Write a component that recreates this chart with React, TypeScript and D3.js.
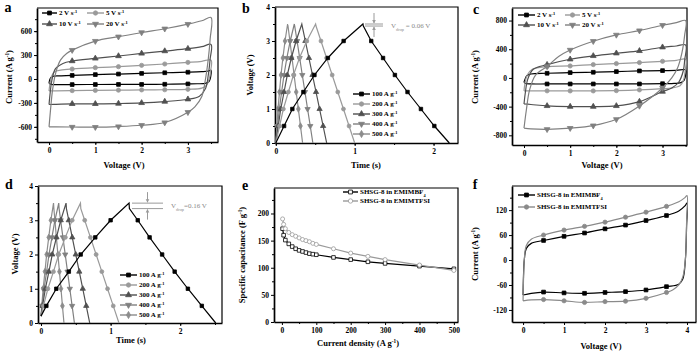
import { useEffect, useRef } from "react";
import * as d3 from "d3";

type Pt = [number, number];
type Part = [string, "" | "sup" | "sub"];

// ---- a: CV curves in EMIMBF4, [voltage V, current A g-1], traced round the loop
const cvA2: Pt[] = [[0,-55],[0.01,-20],[0.04,20],[0.1,35],[0.2,40],[0.5,45],[1,55],[1.5,62],[2,70],[2.5,78],[3,85],[3.3,92],[3.45,100],[3.5,110],[3.5,60],[3.48,0],[3.45,-35],[3.38,-55],[3.2,-60],[3,-62],[2.5,-66],[2,-68],[1.5,-68],[1,-69],[0.5,-70],[0.2,-70],[0.05,-67],[0,-55]];
const cvA5: Pt[] = [[0,-150],[0.02,-60],[0.06,40],[0.12,90],[0.25,110],[0.5,125],[1,142],[1.5,154],[2,171],[2.5,188],[3,208],[3.3,222],[3.5,237],[3.49,100],[3.46,0],[3.4,-80],[3.3,-115],[3,-130],[2.5,-135],[2,-137],[1.5,-140],[1,-143],[0.5,-146],[0.15,-150],[0,-150]];
const cvA10: Pt[] = [[0,-320],[0.02,-200],[0.06,-20],[0.14,130],[0.3,195],[0.5,225],[1,258],[1.5,288],[2,320],[2.5,350],[3,380],[3.3,405],[3.5,433],[3.48,250],[3.44,50],[3.38,-120],[3.25,-215],[3,-254],[2.5,-283],[2,-300],[1.5,-308],[1,-312],[0.5,-312],[0.15,-318],[0,-320]];
const cvA20: Pt[] = [[0,-600],[0.03,-400],[0.08,-120],[0.15,90],[0.25,240],[0.38,320],[0.5,362],[1,475],[1.5,530],[2,583],[2.5,630],[3,688],[3.3,730],[3.5,771],[3.48,500],[3.44,250],[3.38,0],[3.3,-220],[3.15,-350],[3,-417],[2.5,-546],[2,-580],[1.5,-596],[1,-604],[0.5,-602],[0.15,-600],[0,-600]];

// ---- c: CV curves in EMIMTFSI
const cvC2: Pt[] = [[0,-60],[0.02,-20],[0.06,30],[0.15,55],[0.5,65],[1,74],[1.5,79],[2,88],[2.5,98],[3,102],[3.3,106],[3.5,112],[3.5,40],[3.47,-30],[3.4,-65],[3.2,-78],[3,-80],[2.5,-84],[2,-84],[1.5,-84],[1,-84],[0.5,-84],[0.15,-84],[0.03,-78],[0,-60]];
const cvC5: Pt[] = [[0,-180],[0.02,-80],[0.07,40],[0.18,120],[0.5,158],[1,167],[1.5,186],[2,200],[2.5,214],[3,232],[3.3,245],[3.5,260],[3.49,100],[3.45,-40],[3.38,-110],[3.2,-140],[3,-150],[2.5,-167],[2,-177],[1.5,-181],[1,-181],[0.5,-180],[0.15,-180],[0,-180]];
const cvC10: Pt[] = [[0,-363],[0.03,-200],[0.08,-20],[0.2,120],[0.5,185],[1,260],[1.5,307],[2,344],[2.5,377],[3,428],[3.3,445],[3.5,460],[3.48,250],[3.45,100],[3.35,-60],[3.2,-140],[3,-190],[2.5,-330],[2,-390],[1.5,-400],[1,-400],[0.5,-390],[0.15,-370],[0,-363]];
const cvC20: Pt[] = [[0,-700],[0.05,-450],[0.12,-170],[0.25,40],[0.5,160],[0.75,300],[1,390],[1.5,512],[2,600],[2.5,660],[3,735],[3.3,770],[3.5,800],[3.48,600],[3.42,350],[3.32,130],[3.2,0],[3,-140],[2.5,-390],[2,-577],[1.5,-665],[1,-700],[0.5,-716],[0.15,-710],[0,-700]];
const scanRates = ["2", "5", "10", "20"];

// ---- b: GCD in EMIMBF4, [time s, voltage V]
const gcdB100: Pt[] = [[0,0],[0.105,0.5],[0.21,1],[0.35,1.5],[0.49,2],[0.66,2.5],[0.86,3],[1.105,3.5],[1.11,3.44],[1.21,3],[1.36,2.5],[1.51,2],[1.67,1.5],[1.84,1],[2.01,0.5],[2.2,0]];
const gcdB200: Pt[] = [[0,0],[0.048,0.5],[0.096,1],[0.16,1.5],[0.224,2],[0.3,2.5],[0.393,3],[0.505,3.5],[0.51,3.44],[0.573,3],[0.644,2.5],[0.715,2],[0.786,1.5],[0.858,1],[0.929,0.5],[1.0,0]];
const gcdB300: Pt[] = [[0,0],[0.031,0.5],[0.063,1],[0.105,1.5],[0.146,2],[0.197,2.5],[0.257,3],[0.33,3.5],[0.335,3.44],[0.375,3],[0.42,2.5],[0.465,2],[0.51,1.5],[0.555,1],[0.6,0.5],[0.645,0]];
const gcdB400: Pt[] = [[0,0],[0.022,0.5],[0.045,1],[0.074,1.5],[0.104,2],[0.14,2.5],[0.183,3],[0.235,3.5],[0.24,3.44],[0.27,3],[0.303,2.5],[0.336,2],[0.37,1.5],[0.403,1],[0.437,0.5],[0.47,0]];
const gcdB500: Pt[] = [[0,0],[0.014,0.5],[0.028,1],[0.047,1.5],[0.066,2],[0.09,2.5],[0.117,3],[0.15,3.5],[0.155,3.44],[0.179,3],[0.206,2.5],[0.232,2],[0.259,1.5],[0.286,1],[0.313,0.5],[0.34,0]];

// ---- d: GCD in EMIMTFSI
const gcdD100: Pt[] = [[0,0.2],[0.077,0.5],[0.22,1],[0.4,1.5],[0.57,2],[0.78,2.5],[1.0,3],[1.265,3.5],[1.27,3.34],[1.39,3],[1.56,2.5],[1.74,2],[1.92,1.5],[2.11,1],[2.31,0.5],[2.51,0]];
const gcdD200: Pt[] = [[0,0.2],[0.035,0.5],[0.099,1],[0.179,1.5],[0.255,2],[0.35,2.5],[0.448,3],[0.567,3.5],[0.572,3.34],[0.628,3],[0.71,2.5],[0.792,2],[0.874,1.5],[0.956,1],[1.038,0.5],[1.12,0]];
const gcdD300: Pt[] = [[0,0.2],[0.022,0.5],[0.063,1],[0.114,1.5],[0.162,2],[0.222,2.5],[0.284,3],[0.36,3.5],[0.365,3.34],[0.399,3],[0.449,2.5],[0.499,2],[0.55,1.5],[0.6,1],[0.65,0.5],[0.7,0]];
const gcdD400: Pt[] = [[0,0.2],[0.016,0.5],[0.044,1],[0.081,1.5],[0.115,2],[0.157,2.5],[0.2,3],[0.255,3.5],[0.26,3.34],[0.282,3],[0.315,2.5],[0.348,2],[0.381,1.5],[0.414,1],[0.447,0.5],[0.48,0]];
const gcdD500: Pt[] = [[0,0.2],[0.011,0.5],[0.031,1],[0.057,1.5],[0.081,2],[0.111,2.5],[0.142,3],[0.18,3.5],[0.185,3.34],[0.2,3],[0.221,2.5],[0.243,2],[0.265,1.5],[0.287,1],[0.308,0.5],[0.33,0]];
const gcdCurrents = ["100", "200", "300", "400", "500"];

// ---- e: rate capability
const currentDensity = [2, 5, 10, 20, 30, 40, 50, 60, 70, 80, 90, 100, 150, 200, 250, 300, 400, 500];
const capBF4 = [172, 160, 151, 144, 139, 135, 132, 130, 128, 126, 125, 124, 119, 115, 111, 108, 103, 98];
const capTFSI = [190, 180, 172, 165, 161, 158, 155, 152, 150, 148, 145, 143, 135, 127, 121, 115, 105, 95];

// ---- f: CV at 4 V in both electrolytes
const cvF_BF4: Pt[] = [[0,-84],[0.01,-40],[0.03,0],[0.08,28],[0.2,40],[0.5,47],[1,57],[1.5,65],[2,75],[2.5,84],[3,95],[3.5,107],[3.8,118],[3.95,130],[4,137],[3.99,80],[3.96,0],[3.9,-45],[3.8,-58],[3.5,-64],[3,-72],[2.5,-76],[2,-78],[1.5,-80],[1,-79],[0.5,-77],[0.2,-80],[0,-84]];
const cvF_TFSI: Pt[] = [[0,-98],[0.01,-50],[0.03,0],[0.08,35],[0.2,50],[0.5,60],[1,72],[1.5,81],[2,91],[2.5,103],[3,115],[3.5,129],[3.8,140],[3.95,150],[4,155],[3.99,90],[3.96,0],[3.9,-40],[3.8,-60],[3.65,-72],[3.5,-78],[3,-92],[2.5,-99],[2,-100],[1.5,-102],[1,-98],[0.5,-95],[0.2,-96],[0,-98]];

// tick values
const cvXTicks = [0, 1, 2, 3];
const aYTicks = [-600, -300, 0, 300, 600];
const cYTicks = [-800, -400, 0, 400, 800];
const gcdYTicks = [0, 1, 2, 3, 4];
const gcdXTicks = [0, 1, 2];
const eXTicks = [0, 100, 200, 300, 400, 500];
const eYTicks = [0, 50, 100, 150, 200];
const fXTicks = [0, 1, 2, 3, 4];
const fYTicks = [-120, -60, 0, 60, 120];

const FONT = "'Liberation Serif', 'Times New Roman', serif";
const ink = ["#000000", "#9a9a9a", "#505050", "#808080", "#8c8c8c"];
const symTypes = [d3.symbolSquare, d3.symbolCircle, d3.symbolTriangle, d3.symbolTriangle, d3.symbolDiamond];

type Sel = d3.Selection<any, unknown, null, undefined>;
interface Spec {
  left: number; right: number; top: number; bottom: number;
  xDomain: [number, number]; yDomain: [number, number];
  xTicks: number[]; xMinor: number[]; yTicks: number[]; yMinor: number[];
}

const range = (a: number, b: number, s: number) => d3.range(a, b + s / 2, s);

function rich(t: Sel, parts: Part[], fs: number) {
  parts.forEach(([s, k]) => {
    const ts = t.append("tspan").text(s);
    if (k) ts.attr("baseline-shift", k === "sup" ? "super" : "sub").attr("font-size", fs * 0.62);
  });
}

function text(svg: Sel, x: number, y: number, parts: Part[], fs: number, o: { rot?: boolean; anchor?: string; bold?: boolean; fill?: string } = {}) {
  const t = svg.append("text")
    .attr("transform", `translate(${x},${y})${o.rot ? " rotate(-90)" : ""}`)
    .attr("text-anchor", o.anchor ?? "middle")
    .attr("font-family", FONT)
    .attr("font-size", fs)
    .attr("font-weight", o.bold === false ? "normal" : "bold")
    .attr("fill", o.fill ?? "#000");
  rich(t, parts, fs);
  return t;
}

function marker(g: Sel, cx: number, cy: number, kind: number, color: string, size = 14, fill = color) {
  g.append("path")
    .attr("d", d3.symbol(symTypes[kind], size)()!)
    .attr("transform", `translate(${cx},${cy})${kind === 3 ? " rotate(180)" : ""}`)
    .attr("fill", fill)
    .attr("stroke", color)
    .attr("stroke-width", 0.8);
}

function axes(svg: Sel, p: Spec) {
  const x = d3.scaleLinear().domain(p.xDomain).range([p.left, p.right]);
  const y = d3.scaleLinear().domain(p.yDomain).range([p.bottom, p.top]);
  const g = svg.append("g");
  g.append("g").attr("transform", `translate(0,${p.bottom})`)
    .call(d3.axisBottom(x).tickValues(p.xMinor).tickSize(2).tickFormat(() => ""))
    .call(s => s.select(".domain").remove());
  g.append("g").attr("transform", `translate(${p.left},0)`)
    .call(d3.axisLeft(y).tickValues(p.yMinor).tickSize(2).tickFormat(() => ""))
    .call(s => s.select(".domain").remove());
  const xa = g.append("g").attr("transform", `translate(0,${p.bottom})`)
    .call(d3.axisBottom(x).tickValues(p.xTicks).tickSize(3).tickSizeOuter(0).tickPadding(3).tickFormat(d => String(d)));
  const ya = g.append("g").attr("transform", `translate(${p.left},0)`)
    .call(d3.axisLeft(y).tickValues(p.yTicks).tickSize(3).tickSizeOuter(0).tickPadding(2).tickFormat(d => String(d)));
  [xa, ya].forEach(a => {
    a.select(".domain").attr("stroke-width", 1.7);
    a.selectAll(".tick line").attr("stroke-width", 1);
    a.selectAll("text").attr("font-family", FONT).attr("font-size", 7.5).attr("font-weight", "bold");
  });
  g.append("path")
    .attr("d", `M${p.left},${p.top}H${p.right}V${p.bottom}`)
    .attr("fill", "none").attr("stroke", "#000").attr("stroke-width", 1.2);
  return { x, y };
}

function legendItem(svg: Sel, x1: number, x2: number, y: number, color: string, kind: number, parts: Part[], fill?: string) {
  svg.append("line").attr("x1", x1).attr("x2", x2).attr("y1", y).attr("y2", y)
    .attr("stroke", color).attr("stroke-width", 1.4);
  marker(svg, (x1 + x2) / 2, y, kind, color, 15, fill ?? color);
  text(svg, x2 + 2, y + 2.4, parts, 7, { anchor: "start" });
}

function drawLoops(svg: Sel, x: d3.ScaleLinear<number, number>, y: d3.ScaleLinear<number, number>, loops: Pt[][], markerV: number[], colors: string[], kinds: number[]) {
  const line = d3.line<Pt>().x(d => x(d[0])).y(d => y(d[1])).curve(d3.curveCatmullRom.alpha(0.5));
  loops.forEach((pts, i) => {
    svg.append("path").attr("d", line(pts)!).attr("fill", "none")
      .attr("stroke", colors[i]).attr("stroke-width", 1.2);
    pts.filter(p => markerV.some(m => Math.abs(m - p[0]) < 1e-6))
      .forEach(p => marker(svg, x(p[0]), y(p[1]), kinds[i], colors[i]));
  });
}

function drawGcd(svg: Sel, x: d3.ScaleLinear<number, number>, y: d3.ScaleLinear<number, number>, curves: Pt[][]) {
  const line = d3.line<Pt>().x(d => x(d[0])).y(d => y(d[1]));
  const mv = [0.5, 1, 1.5, 2, 2.5, 3];
  [...curves.keys()].reverse().forEach(i => {
    svg.append("path").attr("d", line(curves[i])!).attr("fill", "none")
      .attr("stroke", ink[i]).attr("stroke-width", 1.2);
    curves[i].filter(p => mv.includes(p[1])).forEach(p => marker(svg, x(p[0]), y(p[1]), i, ink[i], 12));
  });
}

function vdrop(svg: Sel, x1: number, x2: number, yTop: number, yBot: number, label: string) {
  const c = "#9a9a9a";
  const ax = (x1 + x2) / 2;
  [yTop, yBot].forEach(v => svg.append("line").attr("x1", x1).attr("x2", x2).attr("y1", v).attr("y2", v).attr("stroke", c).attr("stroke-width", 1));
  svg.append("line").attr("x1", ax).attr("x2", ax).attr("y1", yTop - 11).attr("y2", yTop - 1).attr("stroke", c);
  svg.append("line").attr("x1", ax).attr("x2", ax).attr("y1", yBot + 11).attr("y2", yBot + 1).attr("stroke", c);
  svg.append("path").attr("d", `M${ax - 1.8},${yTop - 4}L${ax + 1.8},${yTop - 4}L${ax},${yTop - 0.5}Z`).attr("fill", c);
  svg.append("path").attr("d", `M${ax - 1.8},${yBot + 4}L${ax + 1.8},${yBot + 4}L${ax},${yBot + 0.5}Z`).attr("fill", c);
  text(svg, x2 + 8, (yTop + yBot) / 2 + 2.5, [["V", ""], ["drop", "sub"], [label, ""]], 7, { anchor: "start", bold: false, fill: "#8a8a8a" });
}

export default function App() {
  const ref = useRef<SVGSVGElement>(null);

  useEffect(() => {
    if (!ref.current) return;
    const svg = d3.select(ref.current) as unknown as Sel;
    svg.selectAll("*").remove();

    // ---------- a ----------
    const a = axes(svg, { left: 37, right: 218, top: 8, bottom: 142, xDomain: [-0.26, 3.65], yDomain: [-790, 890],
      xTicks: cvXTicks, xMinor: range(0, 3.5, 0.5), yTicks: aYTicks, yMinor: range(-750, 750, 150) });
    drawLoops(svg, a.x, a.y, [cvA2, cvA5, cvA10, cvA20], [0.5, 1, 1.5, 2, 2.5, 3], ink, [0, 1, 2, 3]);
    scanRates.forEach((r, i) => legendItem(svg, i % 2 ? 87 : 42, i % 2 ? 104 : 57, i < 2 ? 13 : 24, ink[i], i,
      [[`${r} V s`, ""], ["-1", "sup"]]));
    text(svg, 8, 12, [["a", ""]], 14);
    text(svg, 12, 77, [["Current (A g", ""], ["-1", "sup"], [")", ""]], 8.5, { rot: true });
    text(svg, 124, 168, [["Voltage (V)", ""]], 8.5);

    // ---------- b ----------
    const b = axes(svg, { left: 275, right: 458, top: 7, bottom: 143, xDomain: [-0.01, 2.31], yDomain: [0, 4],
      xTicks: gcdXTicks, xMinor: range(0, 2, 0.5), yTicks: gcdYTicks, yMinor: range(0.5, 3.5, 1) });
    drawGcd(svg, b.x, b.y, [gcdB100, gcdB200, gcdB300, gcdB400, gcdB500]);
    gcdCurrents.forEach((c, i) => legendItem(svg, 353, 370, 94 + i * 10, ink[i], i, [[`${c} A g`, ""], ["-1", "sup"]]));
    vdrop(svg, 365, 383, b.y(3.5), b.y(3.44), " = 0.06 V");
    text(svg, 246, 13, [["b", ""]], 14);
    text(svg, 253, 75, [["Voltage (V)", ""]], 8.5, { rot: true });
    text(svg, 366, 168, [["Time (s)", ""]], 8.5);

    // ---------- c ----------
    const c = axes(svg, { left: 512, right: 687, top: 8, bottom: 145, xDomain: [-0.26, 3.53], yDomain: [-935, 975],
      xTicks: cvXTicks, xMinor: range(0, 3.5, 0.5), yTicks: cYTicks, yMinor: range(-600, 600, 400) });
    drawLoops(svg, c.x, c.y, [cvC2, cvC5, cvC10, cvC20], [0.5, 1, 1.5, 2, 2.5, 3], ink, [0, 1, 2, 3]);
    scanRates.forEach((r, i) => legendItem(svg, i % 2 ? 565 : 518, i % 2 ? 580 : 535, i < 2 ? 15 : 25, ink[i], i,
      [[`${r} V s`, ""], ["-1", "sup"]]));
    text(svg, 476, 14, [["c", ""]], 14);
    text(svg, 478, 77, [["Current (A g", ""], ["-1", "sup"], [")", ""]], 8.5, { rot: true });
    text(svg, 602, 168, [["Voltage (V)", ""]], 8.5);

    // ---------- d ----------
    const d = axes(svg, { left: 38, right: 222, top: 186, bottom: 323, xDomain: [-0.043, 2.6], yDomain: [0, 4],
      xTicks: gcdXTicks, xMinor: range(0, 2.5, 0.5), yTicks: gcdYTicks, yMinor: range(0.5, 3.5, 1) });
    drawGcd(svg, d.x, d.y, [gcdD100, gcdD200, gcdD300, gcdD400, gcdD500]);
    gcdCurrents.forEach((cc, i) => legendItem(svg, 120, 137, 275 + i * 10, ink[i], i, [[`${cc} A g`, ""], ["-1", "sup"]]));
    vdrop(svg, 132, 163, d.y(3.5), d.y(3.34), "=0.16 V");
    text(svg, 9, 189, [["d", ""]], 14);
    text(svg, 18, 254, [["Voltage (V)", ""]], 8.5, { rot: true });
    text(svg, 131, 343, [["Time (s)", ""]], 8.5);

    // ---------- e ----------
    const e = axes(svg, { left: 274, right: 458, top: 188, bottom: 322, xDomain: [-23, 512], yDomain: [0, 247],
      xTicks: eXTicks, xMinor: range(50, 450, 100), yTicks: eYTicks, yMinor: range(25, 225, 50) });
    const eLine = d3.line<number>().x((_, i) => e.x(currentDensity[i]));
    const eSeries = [capBF4, capTFSI];
    const eColors = ["#000000", "#9a9a9a"];
    eSeries.forEach((vals, s) => {
      svg.append("path").attr("d", eLine.y(v => e.y(v))(vals)!).attr("fill", "none")
        .attr("stroke", eColors[s]).attr("stroke-width", 1.2);
      vals.forEach((v, i) => marker(svg, e.x(currentDensity[i]), e.y(v), s, eColors[s], 13, "#fff"));
    });
    legendItem(svg, 343, 358, 192, eColors[0], 0, [["SHSG-8 in EMIMBF", ""], ["4", "sub"]], "#fff");
    legendItem(svg, 343, 358, 201, eColors[1], 1, [["SHSG-8 in EMIMTFSI", ""]], "#fff");
    text(svg, 245, 190, [["e", ""]], 14);
    text(svg, 245, 255, [["Specific capacitance (F g", ""], ["-1", "sup"], [")", ""]], 8.5, { rot: true });
    text(svg, 358, 346, [["Current density (A g", ""], ["-1", "sup"], [")", ""]], 8.5);

    // ---------- f ----------
    const f = axes(svg, { left: 512, right: 696, top: 186, bottom: 322, xDomain: [-0.27, 4.22], yDomain: [-149, 178],
      xTicks: fXTicks, xMinor: range(0.5, 3.5, 1), yTicks: fYTicks, yMinor: range(-90, 150, 60) });
    drawLoops(svg, f.x, f.y, [cvF_BF4, cvF_TFSI], [0.5, 1, 1.5, 2, 2.5, 3, 3.5], ["#000000", "#8a8a8a"], [0, 1]);
    legendItem(svg, 518, 535, 195, "#000000", 0, [["SHSG-8 in EMIMBF", ""], ["4", "sub"]]);
    legendItem(svg, 518, 535, 207, "#8a8a8a", 1, [["SHSG-8 in EMIMTFSI", ""]]);
    text(svg, 475, 189, [["f", ""]], 14);
    text(svg, 478, 254, [["Current (A g", ""], ["-1", "sup"], [")", ""]], 8.5, { rot: true });
    text(svg, 601, 349, [["Voltage (V)", ""]], 8.5);
  }, []);

  return (
    <div style={{ position: "absolute", left: 0, top: 0 }}>
      <svg ref={ref} width={700} height={352} style={{ display: "block", background: "#fff" }} />
    </div>
  );
}
